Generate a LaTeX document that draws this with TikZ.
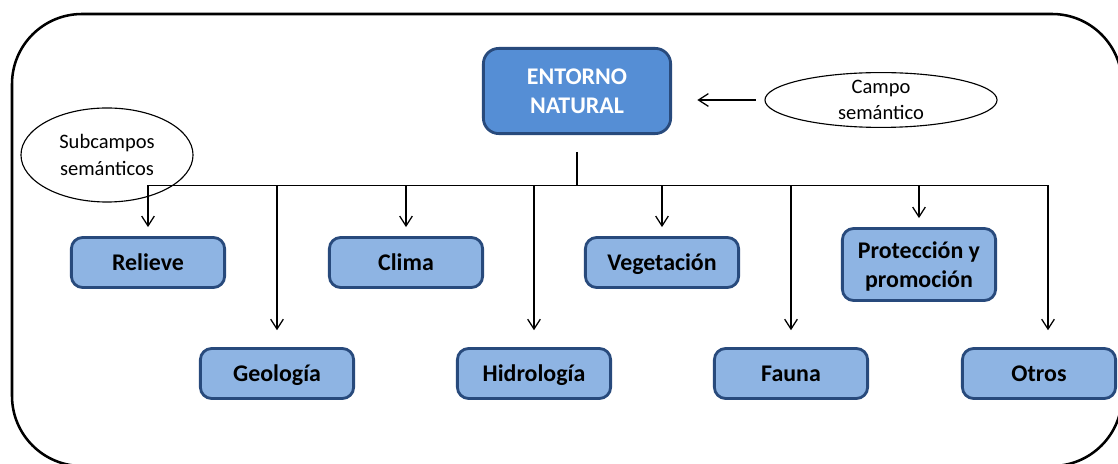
\documentclass[tikz,border=0pt]{standalone}
\usepackage{fontspec}
\setmainfont{Carlito}
\usepackage{tikz}
\usetikzlibrary{shapes.geometric, arrows.meta}
\definecolor{topfill}{RGB}{85,142,213}
\definecolor{subfill}{RGB}{142,180,227}
\definecolor{boxedge}{RGB}{40,74,124}
\tikzstyle{frame} = [line width=1.8pt, rounded corners=1.75cm]
\tikzstyle{topic} = [rectangle, rounded corners=11pt, minimum width=4.68cm, minimum height=2.13cm, inner sep=0pt, align=center, text depth=0pt, draw=boxedge, line width=2pt, fill=topfill, text=white, font=\fontsize{17}{20.5}\selectfont\bfseries]
\tikzstyle{subtopic} = [rectangle, rounded corners=8pt, minimum width=3.83cm, minimum height=1.25cm, inner sep=0pt, align=center, text depth=0pt, draw=boxedge, line width=2pt, fill=subfill, font=\fontsize{17}{20.5}\selectfont\bfseries]
\tikzstyle{tag} = [ellipse, draw=black, line width=0.8pt, inner sep=0pt, align=center, font=\fontsize{14.6}{18}\selectfont]
\tikzstyle{link} = [line width=0.9pt]
\tikzstyle{arrow} = [line width=0.9pt, -{Straight Barb[length=7pt, width=9pt]}]

\begin{document}
\begin{tikzpicture}[x=0.025cm, y=-0.025cm]
				\useasboundingbox (0,0) rectangle (1118,464);
				\clip (0,0) rectangle (1118,464);
				\draw[frame] (12,14) rectangle (1122,466);
				%----------------------------------------------------%
				\node(entorno) [topic] at (577,91) {ENTORNO\\NATURAL};
				\node(campo) [tag, minimum width=5.8cm, minimum height=1.3cm] at (881,100) {Campo\\sem\'antico};
				\draw[arrow, shorten <=6pt, shorten >=18pt] (campo.west) -- (campo.west -| entorno.east);
				
				%----------------------------------------------------%
				\coordinate(b1) at (148,185.3);
				\coordinate(b2) at (277,185.3);
				\coordinate(b3) at (406,185.3);
				\coordinate(b4) at (534,185.3);
				\coordinate(b5) at (662,185.3);
				\coordinate(b6) at (791,185.3);
				\coordinate(b7) at (919,185.3);
				\coordinate(b8) at (1048,185.3);
				\draw[link, shorten <=12pt] (entorno) -- (entorno |- b1);
				\draw[link] (b1) -- (b8);
				
				%----------------------------------------------------%
				\node(relieve) [subtopic] at (148,262.5) {Relieve};
				\node(clima) [subtopic] at (406,262.5) {Clima};
				\node(vegetacion) [subtopic] at (662,262.5) {Vegetaci\'on};
				\node(proteccion) [subtopic, minimum height=1.8cm] at (919,264.5) {Protecci\'on y\\promoci\'on};
				
				\draw[arrow, shorten >=6.4pt] (b1) -- (b1 |- relieve.north);
				\draw[arrow, shorten >=6.4pt] (b3) -- (b3 |- clima.north);
				\draw[arrow, shorten >=6.4pt] (b5) -- (b5 |- vegetacion.north);
				\draw[arrow, shorten >=6.4pt] (b7) -- (b7 |- proteccion.north);
				
				%----------------------------------------------------%
				\node(geologia) [subtopic] at (277,373.5) {Geolog\'ia};
				\node(hidrologia) [subtopic] at (534,373.5) {Hidrolog\'ia};
				\node(fauna) [subtopic] at (791,373.5) {Fauna};
				\node(otros) [subtopic] at (1039,373.5) {Otros};
				
				\draw[arrow, shorten >=12pt] (b2) -- (b2 |- geologia.north);
				\draw[arrow, shorten >=12pt] (b4) -- (b4 |- hidrologia.north);
				\draw[arrow, shorten >=12pt] (b6) -- (b6 |- fauna.north);
				\draw[arrow, shorten >=12pt] (b8) -- (b8 |- otros.north);
				
				%----------------------------------------------------%
				\node(subcampos) [tag, minimum width=4.3cm, minimum height=2.35cm, font=\fontsize{14.6}{19}\selectfont] at (107,155) {Subcampos\\sem\'anticos};
			\end{tikzpicture}
\end{document}
